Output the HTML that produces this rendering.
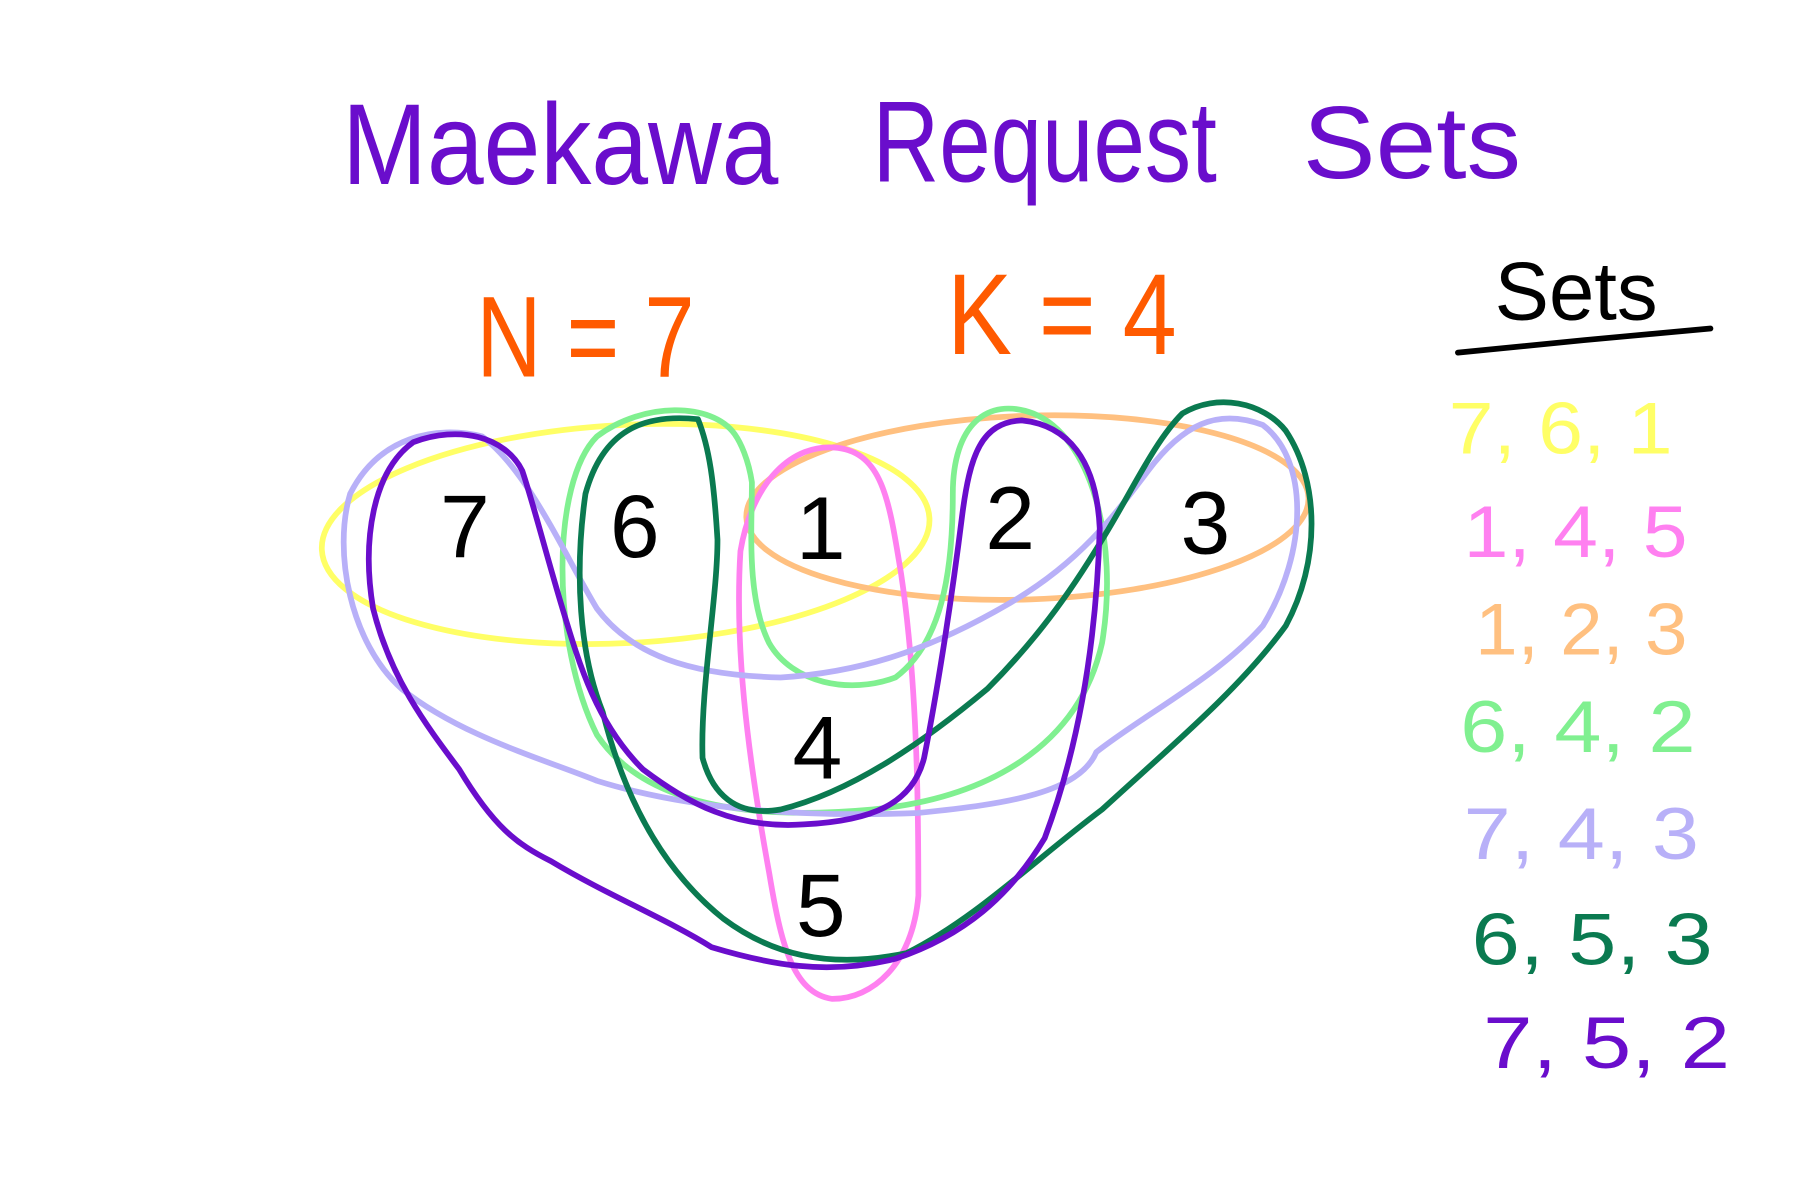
<!DOCTYPE html>
<html><head><meta charset="utf-8"><style>
html,body{margin:0;padding:0;background:#fff;}
svg{display:block}
text{font-family:"Liberation Sans",sans-serif;}
</style></head><body>
<svg width="1800" height="1200" viewBox="0 0 1568 1045" xmlns="http://www.w3.org/2000/svg">
<rect width="1568" height="1045" fill="#fff"/>
<g fill="#6a0dcc">
<text x="298" y="160" font-size="100" textLength="380" lengthAdjust="spacingAndGlyphs">Maekawa</text>
<text x="760" y="158" font-size="100" textLength="300" lengthAdjust="spacingAndGlyphs">Request</text>
<text x="1135" y="155" font-size="90" textLength="190" lengthAdjust="spacingAndGlyphs">Sets</text>
</g>
<g fill="#ff5a00" font-size="100">
<text x="415" y="328" textLength="190" lengthAdjust="spacingAndGlyphs">N = 7</text>
<text x="825" y="308" textLength="200" lengthAdjust="spacingAndGlyphs">K = 4</text>
</g>
<text x="1302" y="278" font-size="72" fill="#000" textLength="142" lengthAdjust="spacingAndGlyphs">Sets</text>
<path d="M1270,307 C1340,300 1420,292 1490,286" stroke="#000" stroke-width="5" fill="none" stroke-linecap="round"/>
<g font-size="64">
<text x="1262" y="395" fill="#ffff66" textLength="195" lengthAdjust="spacingAndGlyphs">7, 6, 1</text>
<text x="1275" y="485" fill="#ff80f0" textLength="195" lengthAdjust="spacingAndGlyphs">1, 4, 5</text>
<text x="1285" y="570" fill="#ffc080" textLength="185" lengthAdjust="spacingAndGlyphs">1, 2, 3</text>
<text x="1272" y="655" fill="#80f090" textLength="205" lengthAdjust="spacingAndGlyphs">6, 4, 2</text>
<text x="1275" y="748" fill="#b8b0f8" textLength="205" lengthAdjust="spacingAndGlyphs">7, 4, 3</text>
<text x="1282" y="840" fill="#0a7a50" textLength="210" lengthAdjust="spacingAndGlyphs">6, 5, 3</text>
<text x="1292" y="930" fill="#6a0dcc" textLength="215" lengthAdjust="spacingAndGlyphs">7, 5, 2</text>
</g>
<g fill="none" stroke-width="5" stroke-linecap="round" stroke-linejoin="round">
<ellipse cx="545" cy="465" rx="265" ry="95" transform="rotate(-3 545 465)" stroke="#ffff66"/>
<ellipse cx="895" cy="442" rx="245" ry="80" transform="rotate(-2 895 442)" stroke="#ffc080"/>
<path d="M730,390 C770,395 775,440 785,500 C800,600 800,720 800,780 C795,840 760,870 725,870 C690,865 680,820 670,760 C650,650 640,560 645,480 C655,420 690,385 730,390 Z" stroke="#ff80f0"/>
<path d="M640,378 C620,350 560,350 520,380 C480,420 480,560 520,640 C560,700 650,715 760,705 C860,695 940,650 960,560 C975,470 950,380 900,360 C860,345 830,370 830,430 C830,500 820,560 780,590 C740,605 690,595 670,560 C650,520 655,460 655,420 C652,400 645,385 640,378 Z" stroke="#80f090"/>
<path d="M420,380 C380,370 330,380 305,430 C290,480 305,560 350,600 C400,640 470,660 520,680 C600,705 700,712 800,708 C880,700 940,690 955,655 C1000,620 1060,590 1100,545 C1140,480 1140,400 1100,370 C1060,355 1030,370 1000,410 C970,450 940,490 880,525 C820,560 760,585 680,590 C600,588 550,570 520,530 C490,480 460,410 420,380 Z" stroke="#b8b0f8"/>
<path d="M608,365 C560,360 525,375 510,430 C500,500 505,570 525,620 C545,700 580,760 630,800 C670,830 720,845 790,830 C850,800 900,750 960,705 C1020,650 1080,600 1120,545 C1150,490 1150,420 1120,375 C1100,350 1060,342 1030,360 C1005,385 985,430 960,470 C930,520 900,560 860,600 C800,650 740,690 680,705 C640,712 620,690 612,660 C610,600 625,520 625,470 C622,420 618,390 608,365 Z" stroke="#0a7a50"/>
<path d="M455,410 C440,380 400,370 360,385 C325,410 315,470 325,530 C340,590 370,630 400,670 C430,720 450,735 480,750 C530,780 580,800 620,825 C670,840 720,850 780,835 C840,815 880,780 910,730 C940,650 955,560 958,460 C955,400 930,370 890,366 C855,368 845,395 838,450 C828,530 815,610 805,660 C795,700 760,715 700,718 C640,722 600,700 560,670 C520,630 505,580 490,530 C475,480 465,440 455,410 Z" stroke="#6a0dcc"/>
</g>
<g fill="#000" font-size="78" text-anchor="middle">
<text x="405" y="485">7</text>
<text x="553" y="485">6</text>
<text x="715" y="487">1</text>
<text x="880" y="478">2</text>
<text x="1050" y="482">3</text>
<text x="712" y="678">4</text>
<text x="715" y="815">5</text>
</g>
</svg>
</body></html>
